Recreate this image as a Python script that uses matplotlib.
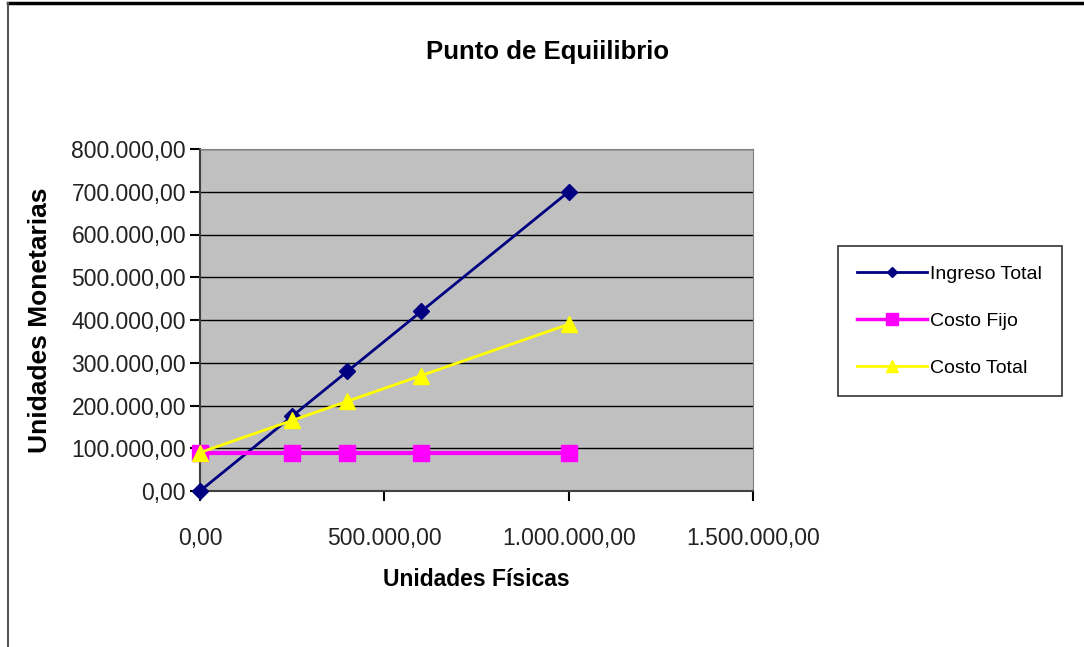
import matplotlib.pyplot as plt
from matplotlib.lines import Line2D
from matplotlib.ticker import FuncFormatter

# unidades vendidas y montos
unidades = [0, 250000, 400000, 600000, 1000000]
ingreso_total = [0, 175000, 280000, 420000, 700000]
costo_fijo = [90000, 90000, 90000, 90000, 90000]
costo_total = [90000, 165000, 210000, 270000, 390000]

plt.rcParams['font.family'] = ['Liberation Sans Narrow', 'Liberation Sans', 'DejaVu Sans']


def formato_es(v, pos=None):
    s = f"{v:,.2f}"
    return s.replace(',', 'X').replace('.', ',').replace('X', '.')


fig = plt.figure(figsize=(10.84, 6.47), dpi=100)
ax = fig.add_axes([200 / 1084, 1 - 491 / 647, 553 / 1084, 342 / 647])
ax.set_facecolor('#C0C0C0')

ax.plot(unidades, ingreso_total, color='#000080', lw=2, marker='D', ms=8,
        label='Ingreso Total', clip_on=False, zorder=3)
ax.plot(unidades, costo_fijo, color='#FF00FF', lw=3, marker='s', ms=11,
        label='Costo Fijo', clip_on=False, zorder=4)
ax.plot(unidades, costo_total, color='#FFFF00', lw=2, marker='^', ms=11,
        label='Costo Total', clip_on=False, zorder=5)

ax.set_xlim(0, 1500000)
ax.set_ylim(0, 800000)
ax.set_xticks([0, 500000, 1000000, 1500000])
ax.set_yticks(range(0, 800001, 100000))
ax.xaxis.set_major_formatter(FuncFormatter(formato_es))
ax.yaxis.set_major_formatter(FuncFormatter(formato_es))
ax.grid(axis='y', color='black', lw=1)
ax.set_axisbelow(True)
for side in ['top', 'right']:
    ax.spines[side].set_color('#808080')
for side in ['left', 'bottom']:
    ax.spines[side].set_color('#404040')
    ax.spines[side].set_linewidth(1.5)
ax.tick_params(direction='out', length=7, width=1.5, color='black',
               labelsize=16.5, labelcolor='#222222')
ax.tick_params(axis='x', pad=19)
ax.tick_params(axis='y', pad=3)

ax.set_xlabel('Unidades Físicas', fontsize=16.5, fontweight='bold', labelpad=13)
ax.set_ylabel('Unidades Monetarias', fontsize=19, fontweight='bold', labelpad=14)
fig.text(548 / 1084, 1 - 52 / 647, 'Punto de Equiilibrio', ha='center', va='center',
         fontsize=18.5, fontweight='bold')

handles = [
    Line2D([], [], color='#000080', lw=2, marker='D', ms=5),
    Line2D([], [], color='#FF00FF', lw=2.5, marker='s', ms=8),
    Line2D([], [], color='#FFFF00', lw=2, marker='^', ms=8),
]
leg = fig.legend(handles, ['Ingreso Total', 'Costo Fijo', 'Costo Total'],
                 loc='upper left', bbox_to_anchor=(838 / 1084, 1 - 246 / 647),
                 fontsize=14, frameon=True, fancybox=False, handlelength=3.6,
                 handletextpad=0.15, labelspacing=1.5, borderpad=1.0,
                 borderaxespad=0)
leg.get_frame().set_edgecolor('black')
leg.get_frame().set_linewidth(1.2)

# marco del gráfico: solo borde superior e izquierdo
fig.add_artist(Line2D([8 / 1084, 1], [1 - 3 / 647, 1 - 3 / 647], color='black', lw=2.5))
fig.add_artist(Line2D([8 / 1084, 8 / 1084], [0, 1 - 3 / 647], color='#555555', lw=1.5))

fig.savefig('out.png', dpi=100)
